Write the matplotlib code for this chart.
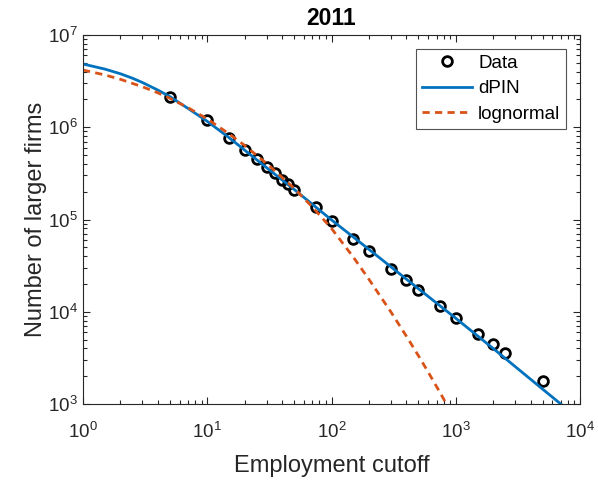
import numpy as np
import matplotlib.pyplot as plt
from matplotlib.ticker import LogLocator, NullFormatter

plt.rcParams['font.family'] = ['Liberation Sans', 'DejaVu Sans']
plt.rcParams['mathtext.fontset'] = 'custom'
plt.rcParams['mathtext.rm'] = 'Liberation Sans'
plt.rcParams['mathtext.it'] = 'Liberation Sans:italic'
plt.rcParams['mathtext.bf'] = 'Liberation Sans:bold'

# dane z wykresu (odczytane)
cutoff = [5, 10, 15, 20, 25, 30, 35, 40, 45, 50, 75, 100, 150, 200,
          300, 400, 500, 750, 1000, 1500, 2000, 2500, 5000]
firms = [2.12e6, 1.19e6, 7.6e5, 5.6e5, 4.5e5, 3.7e5, 3.2e5, 2.7e5, 2.4e5,
         2.1e5, 1.35e5, 9.7e4, 6.2e4, 4.6e4, 2.9e4, 2.2e4, 1.74e4, 1.16e4,
         8.6e3, 5.8e3, 4.5e3, 3.6e3, 1.78e3]

x_dpin = [1, 1.5, 2, 2.5, 3, 4, 5, 7, 10, 15, 20, 30, 50, 100, 200,
          500, 1000, 2000, 5000, 7000]
y_dpin = [4.85e6, 4.27e6, 3.8e6, 3.4e6, 3.06e6, 2.53e6, 2.15e6, 1.6e6,
          1.16e6, 7.7e5, 5.65e5, 3.65e5, 2.12e5, 9.9e4, 4.75e4, 1.78e4,
          8.5e3, 4.0e3, 1.45e3, 1.0e3]

x_logn = [1, 1.5, 2, 3, 4, 5, 7, 10, 15, 20, 30, 50, 70, 100, 150, 200,
          300, 400, 500, 600, 700, 800, 900]
y_logn = [4.17e6, 3.69e6, 3.31e6, 2.75e6, 2.36e6, 2.06e6, 1.63e6, 1.23e6,
          8.47e5, 6.35e5, 4.06e5, 2.18e5, 1.37e5, 8.0e4, 3.9e4, 2.25e4,
          1.0e4, 5.45e3, 3.35e3, 2.22e3, 1.55e3, 1.13e3, 8.5e2]

kolor_osi = '#262626'

fig = plt.figure(figsize=(5.98, 4.8), dpi=100)
ax = fig.add_axes([83/598, 1-404/480, (580-83)/598, (404-35)/480])

ax.plot(cutoff, firms, 'o', mfc='none', mec='black', mew=2, ms=7, label='Data')
ax.plot(x_dpin, y_dpin, '-', color='#0072BD', lw=2, label='dPIN')
ax.plot(x_logn, y_logn, '--', color='#D95319', lw=2, dashes=(2.6, 1.9),
        label='lognormal')

ax.set_xscale('log')
ax.set_yscale('log')
ax.set_xlim(1, 1e4)
ax.set_ylim(1e3, 1e7)

ax.xaxis.set_major_locator(LogLocator(base=10, numticks=10))
ax.yaxis.set_major_locator(LogLocator(base=10, numticks=10))
ax.xaxis.set_minor_locator(LogLocator(base=10, subs=np.arange(2, 10), numticks=20))
ax.yaxis.set_minor_locator(LogLocator(base=10, subs=np.arange(2, 10), numticks=20))
ax.xaxis.set_minor_formatter(NullFormatter())
ax.yaxis.set_minor_formatter(NullFormatter())

ax.tick_params(which='both', direction='in', top=True, right=True,
               colors=kolor_osi, labelsize=13.5, width=0.8)
ax.tick_params(which='major', length=5)
ax.tick_params(which='minor', length=3)
ax.tick_params(axis='x', pad=13)
for s in ax.spines.values():
    s.set_color(kolor_osi)
    s.set_linewidth(0.8)

ax.set_xlabel('Employment cutoff', fontsize=17, color=kolor_osi, labelpad=9)
ax.set_ylabel('Number of larger firms', fontsize=17, color=kolor_osi, labelpad=1)
ax.set_title('2011', fontsize=16.5, fontweight='bold', color='black', pad=7)

leg = ax.legend(loc='upper right', fontsize=13.5, frameon=True, fancybox=False,
                borderaxespad=0.75, handlelength=2.7, handletextpad=0.3,
                labelspacing=0.45, borderpad=0.3)
leg.get_frame().set_edgecolor(kolor_osi)
leg.get_frame().set_linewidth(0.8)

fig.savefig('out.png', dpi=100)
